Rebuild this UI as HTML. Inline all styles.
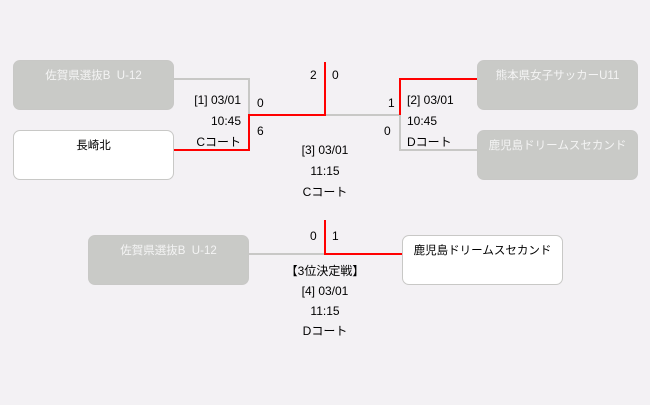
<!DOCTYPE html>
<html><head><meta charset="utf-8"><style>
body{margin:0;width:650px;height:405px;background:#f3f1f4;position:relative;overflow:hidden;font-family:"Liberation Sans","Noto Sans CJK JP",sans-serif;font-size:12px;color:#000}
.b{position:absolute;width:159px;height:48px;border:1px solid #c8c8c6;border-radius:7px;box-sizing:content-box;text-align:center;line-height:30px;font-size:11.5px}
.g{background:#c9cac7;color:#f4f4f4}
.w{background:#fff}
.t{position:absolute;white-space:nowrap;line-height:14px}
svg{position:absolute;left:0;top:0}
</style></head><body>
<svg width="650" height="405">
<g fill="none" stroke-width="2">
<polyline points="174,79 249,79 249,115" stroke="#c8c8c6"/>
<polyline points="325,115 400,115 400,150 477,150" stroke="#c8c8c6"/>
<polyline points="174,150 249,150 249,115 325,115 325,62" stroke="#f00"/>
<polyline points="477,79 400,79 400,115" stroke="#f00"/>
<polyline points="249,254 325,254" stroke="#c8c8c6"/>
<polyline points="325,220 325,254 402,254" stroke="#f00"/>
</g></svg>
<div class="b g" style="left:13px;top:60px">佐賀県選抜B&nbsp; U-12</div>
<div class="b w" style="left:13px;top:130px">長崎北</div>
<div class="b g" style="left:477px;top:60px">熊本県女子サッカーU11</div>
<div class="b g" style="left:477px;top:130px">鹿児島ドリームスセカンド</div>
<div class="b g" style="left:88px;top:235px">佐賀県選抜B&nbsp; U-12</div>
<div class="b w" style="left:402px;top:235px">鹿児島ドリームスセカンド</div>
<div class="t" style="left:310px;top:68px">2</div>
<div class="t" style="left:332px;top:68px">0</div>
<div class="t" style="left:257px;top:96px">0</div>
<div class="t" style="left:257px;top:124px">6</div>
<div class="t" style="left:388px;top:96px">1</div>
<div class="t" style="left:384px;top:124px">0</div>
<div class="t" style="left:150px;top:90px;width:91px;text-align:right;line-height:21px">[1] 03/01<br>10:45<br>Cコート</div>
<div class="t" style="left:407px;top:90px;line-height:21px">[2] 03/01<br>10:45<br>Dコート</div>
<div class="t" style="left:265px;top:140px;width:120px;text-align:center;line-height:21px">[3] 03/01<br>11:15<br>Cコート</div>
<div class="t" style="left:310px;top:229px">0</div>
<div class="t" style="left:332px;top:229px">1</div>
<div class="t" style="left:255px;top:261px;width:140px;text-align:center;line-height:20px">【3位決定戦】<br>[4] 03/01<br>11:15<br>Dコート</div>
</body></html>
